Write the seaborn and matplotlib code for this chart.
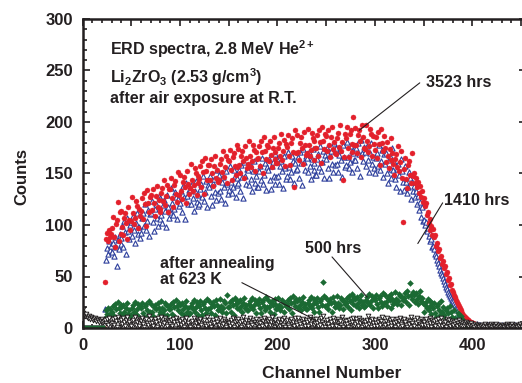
import numpy as np
import pandas as pd
import seaborn as sns
import matplotlib
matplotlib.use("Agg")
import matplotlib.pyplot as plt
from matplotlib.ticker import MultipleLocator, FuncFormatter

# ---------------- data (counts per channel, channel = index) ----------------
red_3523 = [
0,0,0,0,0,0,0,0,0,0,
0,0,0,0,0,0,0,0,0,0,
0,0,0,45,86,92,84,95,88,91,
97,108,88,79,101,105,122,84,113,91,
114,98,90,107,112,102,86,117,105,95,
104,127,112,101,107,123,118,97,116,109,
114,126,106,131,120,99,134,121,113,127,
129,115,135,121,109,128,138,117,124,113,
116,131,136,123,144,119,128,139,113,135,
135,146,126,117,139,143,130,122,151,129,
149,133,125,142,147,137,121,152,140,130,
136,159,144,133,139,155,150,129,148,141,
145,157,137,162,151,130,165,152,144,158,
158,144,164,150,138,157,167,146,153,142,
144,159,164,151,172,147,156,167,141,163,
162,173,153,144,166,170,157,149,178,156,
174,158,150,167,172,162,146,177,165,155,
159,182,167,156,162,178,173,152,171,164,
165,177,157,182,171,150,185,172,164,178,
176,162,182,168,156,175,185,164,171,160,
160,175,180,167,188,163,172,183,157,179,
176,187,167,158,180,184,171,137,192,170,
187,171,163,180,185,175,159,190,178,168,
170,193,178,167,173,189,184,163,182,175,
175,187,167,192,181,160,195,182,174,188,
186,172,192,178,166,185,195,174,181,170,
169,184,189,176,197,172,181,144,166,188,
184,195,175,166,188,192,179,171,205,178,
194,178,170,187,192,182,166,197,185,175,
174,197,182,171,177,193,188,167,186,179,
173,185,165,190,179,158,193,180,172,186,
175,161,181,167,155,174,184,163,170,159,
149,164,169,156,177,152,161,172,146,103,
154,165,145,136,158,162,149,141,170,148,
150,141,146,137,142,131,138,127,133,122,
126,118,121,110,113,102,106,95,99,90,
96,88,90,80,83,75,77,68,70,62,
65,58,60,52,54,47,49,42,43,37,
35,32,30,27,25,23,21,19,17,15,
13,12,11,10,9,8,8,7,6,6,
5,5,4,4,3,3,2,2,2,1,1]

blue_1410 = [
0,0,0,0,0,0,0,0,0,0,
0,0,0,0,0,0,0,0,0,0,
0,0,0,18,66,78,72,84,76,80,
74,83,70,88,79,60,85,77,91,82,
87,99,79,104,93,72,107,94,86,100,
103,89,109,95,83,102,112,91,98,87,
92,107,112,99,120,95,104,115,89,111,
112,123,103,94,116,120,107,99,128,106,
126,110,102,119,124,114,98,129,117,107,
113,136,121,110,116,132,127,106,125,118,
121,133,113,138,127,106,141,128,120,134,
134,120,140,126,114,133,143,122,129,118,
120,135,140,127,148,123,132,143,117,139,
137,148,128,119,141,145,132,124,153,131,
149,133,125,142,147,137,121,152,140,130,
134,157,142,131,137,153,148,127,146,139,
141,153,133,158,147,126,161,148,140,154,
153,139,159,145,133,152,162,141,148,137,
137,152,157,144,165,140,149,160,134,156,
153,164,144,135,157,161,148,140,169,147,
164,148,140,157,162,152,136,167,155,145,
148,171,156,145,151,167,162,141,160,153,
154,166,146,171,160,139,174,161,153,167,
165,151,171,157,145,164,174,153,160,149,
149,164,169,156,177,152,161,172,146,168,
164,175,155,146,168,172,159,151,180,158,
175,159,151,168,173,163,147,178,166,156,
158,181,166,155,161,177,172,151,170,163,
163,175,155,180,169,148,183,170,162,176,
171,157,177,163,151,170,180,159,166,155,
150,165,170,157,178,153,162,173,147,169,
159,170,150,141,163,167,154,146,175,153,
161,145,137,154,159,149,133,164,152,142,
134,157,142,131,137,151,146,125,142,133,
138,127,133,120,128,115,122,108,117,104,
105,100,103,94,97,89,92,84,86,79,
80,77,72,70,66,63,60,56,53,51,
49,46,43,40,38,35,33,31,29,27,
26,24,22,20,19,17,15,14,13,11,
10,9,9,8,7,6,6,5,5,4,
4,4,3,3,3,4,2,3,3,2,
2,3,2,2,3,2,3,2,2,3,
2,2,3,2,3,2,2,3,2,2,
3,2,2,3,2,2,3,2,3,2,
2,3,2,2,3,2,2,3,2,2,
3,2,2,3,2,2,3,2,2,3,2]

green_500 = [
0,0,0,0,0,0,0,0,0,0,
0,0,0,0,0,0,0,0,0,0,
0,0,0,10,17,14,19,12,18,15,
16,21,12,23,18,9,25,19,15,22,
20,13,22,16,11,19,24,14,17,12,
13,19,22,16,25,14,18,23,11,21,
19,24,15,11,21,23,17,13,26,16,
23,16,12,20,22,18,10,24,19,14,
16,26,19,14,17,24,22,13,21,18,
18,23,14,25,20,11,27,21,17,24,
22,15,24,18,13,21,26,16,19,14,
15,21,24,18,27,16,20,25,13,23,
21,26,17,13,23,25,19,15,28,18,
26,19,15,23,25,21,13,27,22,17,
18,28,21,16,19,26,24,15,32,20,
20,25,16,27,22,13,29,23,19,26,
25,18,27,21,16,24,29,19,22,17,
17,23,26,20,29,18,22,27,15,25,
23,28,19,15,25,27,21,17,30,20,
27,20,16,24,26,22,14,28,23,18,
19,29,22,17,20,27,25,16,24,21,
22,27,18,29,24,15,31,25,21,28,
26,19,28,22,17,25,30,20,23,18,
18,24,27,21,30,19,23,28,16,26,
24,29,20,16,26,28,22,45,31,21,
29,22,18,26,28,24,16,30,25,20,
21,31,24,19,22,29,27,18,26,23,
24,29,20,31,26,17,33,27,23,30,
28,21,30,24,19,27,32,22,25,20,
21,27,30,24,33,22,26,31,19,29,
27,32,23,19,29,31,25,21,34,24,
32,25,21,29,31,27,19,33,28,23,
25,35,28,23,26,33,31,22,30,27,
29,34,25,36,31,22,44,32,28,35,
32,25,34,28,23,31,36,26,29,24,
16,22,25,19,28,17,21,26,14,24,
19,24,15,11,21,23,17,13,26,16,
20,13,9,17,19,15,7,21,16,11,
7,17,10,5,8,15,13,4,12,9,
6,4,5,3,4,2,3,2,2,1,
1,2,1,1,2,1,1,2,1,1,1]

black_annealed = [
18,15,13,12,14,11,10,12,9,11,
10,8,9,10,7,9,8,6,8,7,
9,6,7,8,5,9,3,10,6,4,
5,9,3,10,7,1,11,7,5,9,
8,4,10,6,2,8,11,4,6,3,
2,7,8,4,11,3,6,9,2,8,
7,10,4,1,8,9,5,3,12,5,
9,5,2,7,9,6,1,10,7,4,
4,11,6,3,5,10,8,2,7,6,
4,8,2,9,6,0,10,6,4,8,
7,3,9,5,1,7,10,3,5,2,
1,6,7,3,10,2,5,8,1,7,
6,9,3,0,7,8,4,2,11,4,
8,4,1,6,8,5,0,9,6,3,
3,10,5,2,4,9,7,1,6,5,
5,2,8,4,10,1,6,9,3,7,
9,4,6,1,7,11,3,5,8,2,
2,7,10,5,3,8,0,6,9,4,
6,1,5,9,2,7,10,4,3,8,
7,9,3,6,11,2,5,1,8,4,
4,6,9,2,5,8,3,10,1,7,
8,3,1,7,9,4,6,2,10,5,
3,10,6,4,1,7,9,5,2,8,
6,2,8,11,4,0,7,3,9,5,
9,5,2,7,3,10,6,12,4,1,
5,8,4,1,9,6,2,10,7,3,
2,6,9,5,7,3,11,1,8,4,
7,4,1,8,5,9,3,6,10,2,
4,9,6,2,10,5,8,1,7,3,
6,3,8,12,4,7,1,9,5,2,
8,5,2,6,9,3,7,11,4,1,
3,7,10,4,1,8,5,2,9,6,
5,1,6,9,3,7,10,4,2,8,
9,6,3,1,8,4,7,11,5,2,
2,8,5,10,6,1,4,9,3,7,
6,3,9,4,2,7,10,5,1,8,
4,7,2,8,5,9,3,6,10,2,
7,3,6,1,9,4,8,2,5,7,
3,6,4,7,2,5,8,3,6,2,
5,2,4,6,3,5,2,4,3,5,
2,3,1,4,2,3,2,1,3,2,
3,1,2,4,2,1,3,2,2,4,
1,3,2,2,4,1,2,3,1,2,
3,2,1,3,2,4,2,1,3,2,
2,4,1,2,3,2,1,3,2,4,
2,1,3,2,2,4,1,2,3,2,2]

x_ticks_labeled = [0, 100, 200, 300, 400]
y_ticks_labeled = [0, 50, 100, 150, 200, 250, 300]

# ---------------- style ----------------
sns.set_style("ticks")
plt.rcParams["font.family"] = ["Liberation Sans", "DejaVu Sans"]
plt.rcParams["font.weight"] = "bold"
plt.rcParams["mathtext.fontset"] = "custom"
plt.rcParams["mathtext.rm"] = "Liberation Sans:bold"
plt.rcParams["mathtext.bf"] = "Liberation Sans:bold"
plt.rcParams["mathtext.it"] = "Liberation Sans:bold"
plt.rcParams["mathtext.default"] = "bf"

TXT = "#231f20"
RED = "#e3202b"
BLUE = "#2c3e9c"
GREEN = "#1b6a33"
BLK = "#231f20"

fig = plt.figure(figsize=(5.22, 3.83), dpi=100)
ax = fig.add_axes([82.5 / 522, (383 - 328) / 383, (526 - 82.5) / 522, (328 - 19) / 383])

def frame(vals, name):
    return pd.DataFrame({"channel": np.arange(len(vals)), "counts": vals, "series": name})

sns.scatterplot(data=frame(blue_1410, "1410"), x="channel", y="counts", ax=ax,
                marker="^", s=14, color="white", edgecolor=BLUE, linewidth=0.8, legend=False)
sns.scatterplot(data=frame(red_3523, "3523"), x="channel", y="counts", ax=ax,
                marker="o", s=13, color=RED, edgecolor=RED, linewidth=0.3, legend=False)
sns.scatterplot(data=frame(green_500, "500"), x="channel", y="counts", ax=ax,
                marker="D", s=9, color=GREEN, edgecolor=GREEN, linewidth=0.3, legend=False)
sns.scatterplot(data=frame(black_annealed, "annealed"), x="channel", y="counts", ax=ax,
                marker="v", s=11, color="white", edgecolor=BLK, linewidth=0.7, legend=False)

ax.set_xlim(0, 455)
ax.set_ylim(0, 300)

ax.xaxis.set_major_locator(MultipleLocator(50))
ax.xaxis.set_minor_locator(MultipleLocator(10))
ax.xaxis.set_major_formatter(FuncFormatter(lambda v, p: f"{int(v)}" if int(round(v)) in x_ticks_labeled else ""))
ax.set_yticks(y_ticks_labeled)
ax.yaxis.set_minor_locator(MultipleLocator(10))

ax.tick_params(which="both", direction="in", top=True, right=True, color=TXT)
ax.tick_params(which="major", length=5, width=1.2, labelsize=12, labelcolor=TXT, pad=7)
ax.tick_params(which="minor", length=3, width=1.2)
for lab in ax.get_xticklabels() + ax.get_yticklabels():
    lab.set_fontweight("bold")
for sp in ax.spines.values():
    sp.set_linewidth(1.8)
    sp.set_color(TXT)

ax.set_xlabel("Channel Number", fontsize=12.5, fontweight="bold", color=TXT)
ax.set_ylabel("Counts", fontsize=12, fontweight="bold", color=TXT)
ax.xaxis.set_label_coords((332 - 82.5) / 443.5, (328 - 366) / 309)
ax.yaxis.set_label_coords((29 - 82.5) / 443.5, 0.49)

tk = dict(fontsize=11.5, fontweight="bold", color=TXT, va="baseline", ha="left")
ax.text(28, 265, r"ERD spectra, 2.8 MeV He$^{2+}$", **tk)
ax.text(28, 238, r"Li$_{2}$ZrO$_{3}$ (2.53 g/cm$^{3}$)", **tk)
ax.text(28, 218.5, "after air exposure at R.T.", **tk)

ax.text(352, 234, "3523 hrs", **tk)
ax.plot([284, 346], [192, 238], color=TXT, lw=0.8)
ax.text(371, 119.5, "1410 hrs", **tk)
ax.plot([344, 369.5], [82, 121.5], color=TXT, lw=0.8)
ax.text(228, 73, "500 hrs", **tk)
ax.plot([256, 292], [69, 30], color=TXT, lw=0.8)
ax.text(80, 58.3, "after annealing", **tk)
ax.text(80, 42.7, "at 623 K", **tk)
ax.plot([163.5, 238.5], [44, 8], color=TXT, lw=0.8)

fig.savefig("out.png", dpi=100)
